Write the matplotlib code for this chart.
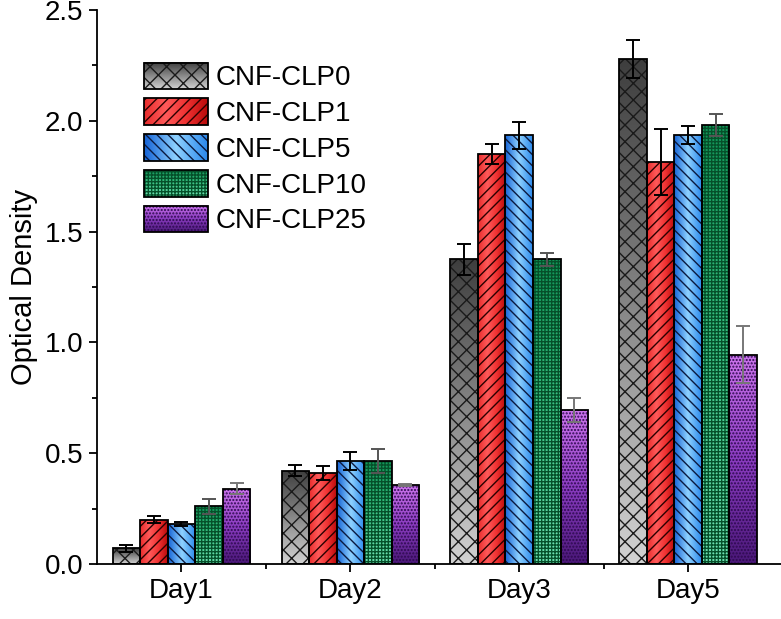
import numpy as np
import matplotlib
matplotlib.use("Agg")
import matplotlib.pyplot as plt
from matplotlib.colors import LinearSegmentedColormap
from matplotlib.patches import Rectangle
from matplotlib.image import BboxImage
from matplotlib.transforms import Bbox, TransformedBbox
from matplotlib.legend_handler import HandlerBase
from matplotlib.ticker import MultipleLocator, FixedLocator, FormatStrFormatter

plt.rcParams['font.family'] = ['Liberation Sans', 'DejaVu Sans']

# data
days = ['Day1', 'Day2', 'Day3', 'Day5']
groups = ['CNF-CLP0', 'CNF-CLP1', 'CNF-CLP5', 'CNF-CLP10', 'CNF-CLP25']
clp0 = [0.07, 0.42, 1.375, 2.28]
clp1 = [0.20, 0.41, 1.85, 1.815]
clp5 = [0.18, 0.465, 1.935, 1.935]
clp10 = [0.26, 0.465, 1.375, 1.98]
clp25 = [0.34, 0.355, 0.695, 0.945]
err0 = [0.015, 0.025, 0.07, 0.085]
err1 = [0.015, 0.03, 0.045, 0.15]
err5 = [0.01, 0.04, 0.06, 0.04]
err10 = [0.035, 0.055, 0.03, 0.05]
err25 = [0.025, 0.005, 0.055, 0.13]

values = [clp0, clp1, clp5, clp10, clp25]
errors = [err0, err1, err5, err10, err25]

# gradient definitions: (colors, horizontal?)
grads = [
    (['#3e3e3e', '#d2d2d2'], False),
    (['#e82c2c', '#ff5a5a', '#f03232', '#b80a0a'], True),
    (['#1462d6', '#8fd2ff', '#2a88ec'], True),
    (['#119558', '#3cc486', '#6fe2b4'], False),
    (['#cc74ec', '#8a3cc0', '#4a1878'], False),
]
hatches = ['xx', '///', '\\\\\\', '+++++', '.....']
hatch_cols = ['#1a1a1a', '#2a0000', '#0a1a40', '#05502a', '#2e0a50']
err_cols = ['k', 'k', 'k', '#555555', '#777777']


def grad_array(colors, horizontal, n=128):
    cmap = LinearSegmentedColormap.from_list('g', colors)
    row = cmap(np.linspace(0, 1, n))
    if horizontal:
        return row[np.newaxis, :, :]
    return row[:, np.newaxis, :]


class GradHandler(HandlerBase):
    def __init__(self, idx):
        super().__init__()
        self.idx = idx

    def create_artists(self, legend, orig_handle, xdescent, ydescent,
                       width, height, fontsize, trans):
        x0, y0 = -xdescent, -ydescent
        colors, horiz = grads[self.idx]
        bb = TransformedBbox(Bbox.from_bounds(x0, y0, width, height), trans)
        img = BboxImage(bb, interpolation='bilinear')
        img.set_data(grad_array(colors, horiz))
        hat = Rectangle((x0, y0), width, height, facecolor='none',
                        edgecolor=hatch_cols[self.idx], linewidth=0,
                        hatch=hatches[self.idx], transform=trans)
        edge = Rectangle((x0, y0), width, height, facecolor='none',
                         edgecolor='k', linewidth=1.3, transform=trans)
        return [img, hat, edge]


fig = plt.figure(figsize=(7.81, 6.19), dpi=100)
ax = fig.add_axes([0.1242, 0.0889, 0.8758, 0.8949])

x = np.arange(len(days))
width = 0.163
handles = []
for i, (vals, errs) in enumerate(zip(values, errors)):
    pos = x + (i - 2) * width
    bars = ax.bar(pos, vals, width, color='none', edgecolor='none', zorder=2)
    handles.append(bars)
    colors, horiz = grads[i]
    arr = grad_array(colors, horiz)
    for b in bars:
        bx, by = b.get_x(), b.get_y()
        bw, bh = b.get_width(), b.get_height()
        im = ax.imshow(arr, extent=[bx, bx + bw, by, by + bh], aspect='auto',
                       interpolation='bilinear', zorder=2)
        im.set_clip_path(b)
    ax.bar(pos, vals, width, color='none', edgecolor=hatch_cols[i],
           linewidth=0, hatch=hatches[i], zorder=3)
    ax.bar(pos, vals, width, color='none', edgecolor='k', linewidth=1.3, zorder=4)
    ax.errorbar(pos, vals, yerr=errs, fmt='none', ecolor=err_cols[i],
                elinewidth=1.4, capsize=5, capthick=1.4, zorder=5)

ax.set_xlim(-0.5, 3.55)
ax.set_ylim(0, 2.5)
ax.set_xticks(x)
ax.set_xticklabels(days)
ax.xaxis.set_minor_locator(FixedLocator([0.5, 1.5, 2.5]))
ax.yaxis.set_major_locator(MultipleLocator(0.5))
ax.yaxis.set_minor_locator(MultipleLocator(0.25))
ax.yaxis.set_major_formatter(FormatStrFormatter('%.1f'))
ax.tick_params(axis='both', which='major', direction='out', length=6,
               width=1.3, labelsize=20, pad=4)
ax.tick_params(axis='both', which='minor', direction='out', length=3.5, width=1.3)
ax.spines['top'].set_visible(False)
ax.spines['right'].set_visible(False)
for s in ('left', 'bottom'):
    ax.spines[s].set_linewidth(1.3)
ax.set_ylabel('Optical Density', fontsize=21, labelpad=5)

ax.legend(handles, groups, handler_map={h: GradHandler(i) for i, h in enumerate(handles)},
          loc='upper left', bbox_to_anchor=(0.048, 0.93), frameon=False,
          fontsize=20, handlelength=2.3, handleheight=1.1, labelspacing=0.25,
          handletextpad=0.28, borderpad=0)

fig.savefig('out.png', dpi=100)
